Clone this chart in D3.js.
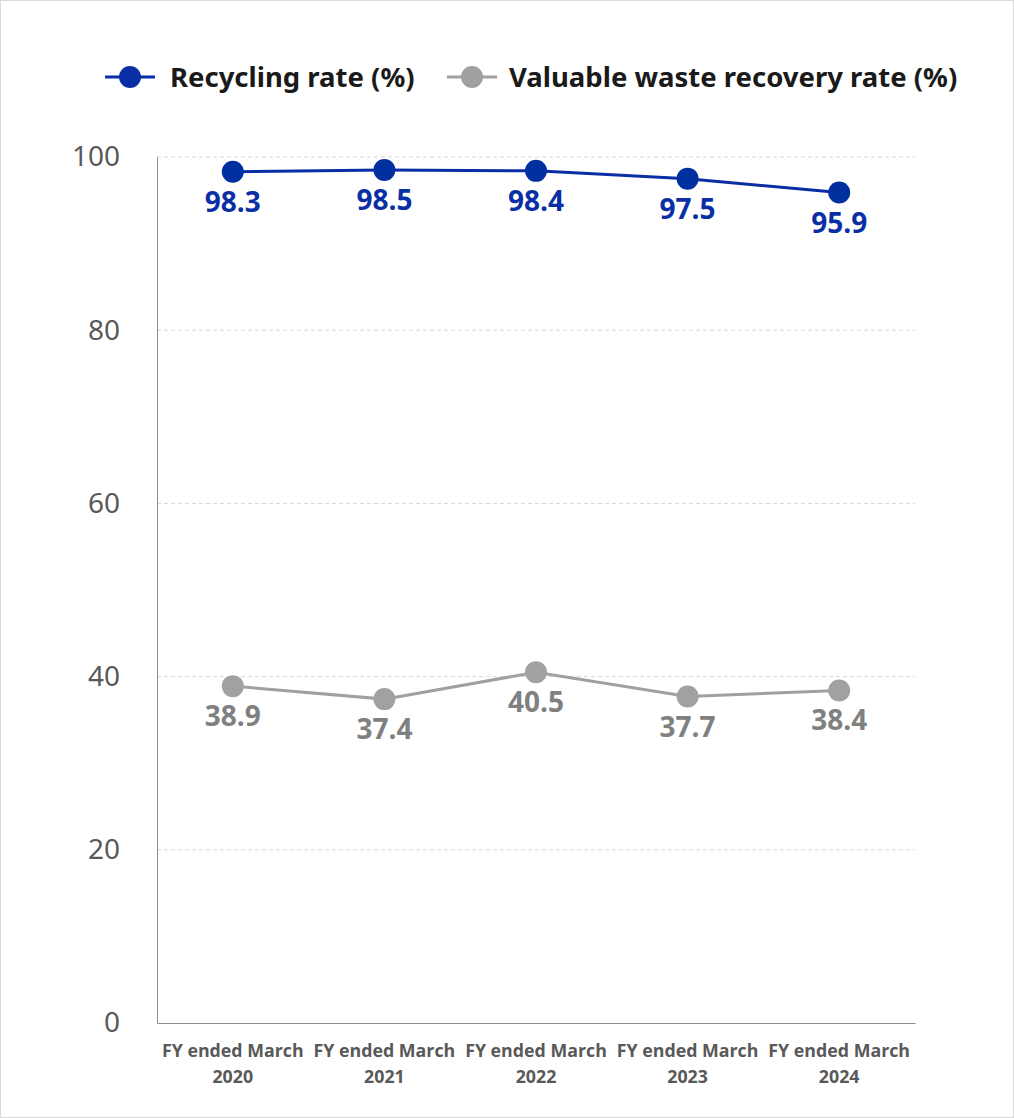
<!DOCTYPE html>
<html><head><meta charset="utf-8">
<script src="https://cdn.jsdelivr.net/npm/d3@7"></script>
<style>body{margin:0;background:#fff}svg{display:block}</style>
</head><body>
<script>
const categories = [["FY ended March","2020"],["FY ended March","2021"],["FY ended March","2022"],["FY ended March","2023"],["FY ended March","2024"]];
const recyclingRate = [98.3, 98.5, 98.4, 97.5, 95.9];
const valuableRate = [38.9, 37.4, 40.5, 37.7, 38.4];
const yTicks = [0, 20, 40, 60, 80, 100];
const seriesNames = ["Recycling rate (%)", "Valuable waste recovery rate (%)"];

(function(){
const W = 1014, H = 1118;
const svg = d3.select("body").append("svg").attr("width", W).attr("height", H);
svg.append("rect").attr("x",0.5).attr("y",0.5).attr("width",W-1).attr("height",H-1).attr("fill","#fff").attr("stroke","#d9d9d9");

const pL = 157, pR = 915, pT = 157, pB = 1023;
const x = d3.scaleBand().domain(d3.range(categories.length)).range([pL, pR]);
const y = d3.scaleLinear().domain([0, 100]).range([pB, pT]);
const cx = i => x(i) + x.bandwidth()/2;

// grid
svg.append("g").selectAll("line").data(yTicks.filter(t => t > 0)).join("line")
  .attr("x1", pL).attr("x2", pR).attr("y1", d => y(d)).attr("y2", d => y(d))
  .attr("stroke", "#d9d9d9").attr("stroke-dasharray", "4,3").attr("stroke-width", 1);

// y axis
const yAxis = svg.append("g").attr("transform", `translate(${pL},0)`)
  .call(d3.axisLeft(y).tickValues(yTicks).tickSize(0).tickPadding(37));
yAxis.select(".domain").attr("stroke", "#8c8c8c");
yAxis.selectAll("text").attr("font-family", "'Noto Sans', sans-serif").attr("font-size", 28).attr("fill", "#595959");

// x axis
const xAxis = svg.append("g").attr("transform", `translate(0,${pB})`)
  .call(d3.axisBottom(x).tickSize(0).tickFormat(""));
xAxis.select(".domain").attr("stroke", "#8c8c8c");
const xl = svg.append("g").selectAll("text").data(categories).join("text")
  .attr("x", (d,i) => cx(i)).attr("y", 1057).attr("text-anchor", "middle")
  .attr("font-family", "'Open Sans', sans-serif").attr("font-weight", "bold").attr("font-size", 17.8).attr("fill", "#595959");
xl.append("tspan").attr("x", (d,i) => cx(i)).text(d => d[0]);
xl.append("tspan").attr("x", (d,i) => cx(i)).attr("dy", 26).text(d => d[1]);

function drawSeries(data, lineColor, dotColor, labelColor) {
  const line = d3.line().x((d,i) => cx(i)).y(d => y(d));
  svg.append("path").datum(data).attr("d", line).attr("fill", "none").attr("stroke", lineColor).attr("stroke-width", 3);
  svg.append("g").selectAll("circle").data(data).join("circle")
    .attr("cx", (d,i) => cx(i)).attr("cy", d => y(d)).attr("r", 11).attr("fill", dotColor);
  svg.append("g").selectAll("text").data(data).join("text")
    .attr("x", (d,i) => cx(i)).attr("y", d => y(d) + 40).attr("text-anchor", "middle")
    .attr("font-family", "'Open Sans', sans-serif").attr("font-weight", "bold").attr("font-size", 28)
    .attr("fill", labelColor).text(d => d.toFixed(1));
}
drawSeries(valuableRate, "#a0a0a0", "#a0a2a0", "#808080");
drawSeries(recyclingRate, "#0a2fa5", "#0030a0", "#0a2fa5");

// legend
const legend = [
  {name: seriesNames[0], color: "#0a2fa5", x: 105, tx: 170},
  {name: seriesNames[1], color: "#a0a0a0", x: 447, tx: 509}
];
const lg = svg.append("g").selectAll("g").data(legend).join("g");
lg.append("line").attr("x1", d => d.x).attr("x2", d => d.x + 50).attr("y1", 77).attr("y2", 77).attr("stroke", d => d.color).attr("stroke-width", 3);
lg.append("circle").attr("cx", d => d.x + 25).attr("cy", 77).attr("r", 11).attr("fill", d => d.color);
lg.append("text").attr("x", d => d.tx).attr("y", 87).attr("font-family", "'Noto Sans', sans-serif")
  .attr("font-weight", "bold").attr("font-size", 27.5).attr("fill", "#1a1a1a").text(d => d.name);
})();
</script>
</body></html>
